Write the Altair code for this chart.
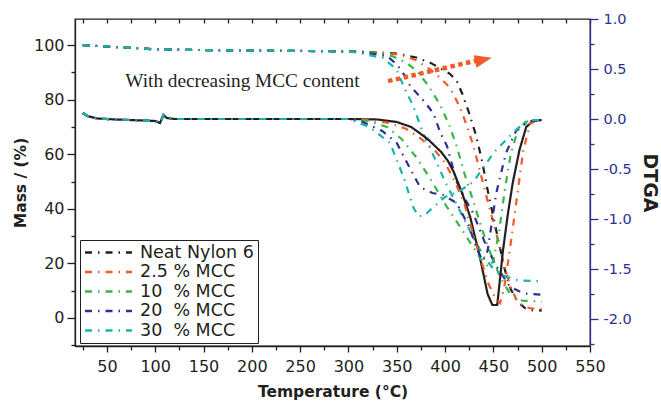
import altair as alt
import pandas as pd

series = ["Neat Nylon 6", "2.5 % MCC", "10\u00a0 % MCC", "20\u00a0 % MCC", "30\u00a0 % MCC"]
colors = ["#231f20", "#f15a29", "#39b54a", "#2e3192", "#1bb3a9"]

# ---- TGA (mass %) ----
tga_base_T = [25, 40, 60, 80, 100, 150, 200, 250, 300]
tga_base_m = [100.0, 99.7, 99.3, 98.9, 98.5, 98.2, 98.0, 97.9, 97.7]

neat_tga_T = [330, 350, 370, 385, 395, 405, 412, 418, 425, 432, 438, 444, 450, 456, 462, 468, 475, 483, 490, 500]
neat_tga_m = [97.4, 96.9, 95.5, 93.5, 91.5, 89.5, 87.0, 82.0, 75.0, 67.0, 58.0, 47.0, 37.0, 27.0, 17.5, 10.5, 6.0, 3.5, 2.8, 2.7]

mcc25_tga_T = [330, 354, 370, 385, 395, 402, 408, 415, 422, 429, 436, 444, 453, 460, 467, 474, 481, 490, 500]
mcc25_tga_m = [97.3, 96.5, 94.5, 91.0, 88.0, 85.5, 82.5, 77.5, 71.0, 63.5, 54.0, 43.0, 31.0, 21.0, 12.0, 6.5, 4.2, 3.4, 3.3]

mcc10_tga_T = [329, 345, 353, 362, 371, 383, 395, 404, 412, 420, 429, 436, 443, 450, 457, 467, 480, 500]
mcc10_tga_m = [97.2, 96.0, 94.8, 93.0, 90.5, 85.0, 78.0, 71.0, 63.0, 53.0, 43.0, 35.0, 27.5, 21.0, 15.0, 9.0, 6.3, 6.0]

mcc20_tga_T = [319, 340, 350, 357, 364, 377, 388, 395, 402, 412, 420, 429, 443, 453, 467, 481, 500]
mcc20_tga_m = [97.2, 96.0, 93.0, 89.5, 85.0, 80.0, 75.0, 68.0, 63.0, 50.0, 44.0, 38.5, 26.0, 19.0, 11.5, 9.0, 8.5]

mcc30_tga_T = [308, 336, 350, 357, 367, 377, 390, 400, 410, 420, 430, 440, 450, 460, 475, 500]
mcc30_tga_m = [97.3, 95.3, 91.0, 85.0, 77.7, 68.0, 58.0, 50.0, 43.0, 36.0, 29.0, 22.5, 18.0, 15.5, 13.8, 13.4]

# ---- DTGA ----
dtga_base_T = [25, 30, 40, 60, 100, 105, 108.5, 112, 120, 200, 300]
dtga_base_v = [0.06, 0.03, 0.005, -0.005, -0.02, -0.04, 0.04, 0.01, 0.0, 0.0, 0.0]

neat_dtga_T = [330, 350, 365, 382, 396, 403, 409, 418, 426, 436, 444, 449, 454, 460, 465, 470, 477, 484, 491, 500]
neat_dtga_v = [-0.005, -0.03, -0.08, -0.2, -0.33, -0.42, -0.53, -0.75, -0.98, -1.38, -1.75, -1.86, -1.86, -1.31, -0.95, -0.64, -0.31, -0.08, -0.02, -0.01]

mcc25_dtga_T = [320, 343, 360, 374, 390, 400, 410, 420, 433, 445, 452, 457, 461, 467, 474, 481, 488, 495, 500]
mcc25_dtga_v = [-0.01, -0.04, -0.1, -0.19, -0.32, -0.44, -0.62, -0.85, -1.28, -1.65, -1.79, -1.84, -1.7, -1.31, -0.81, -0.31, -0.05, -0.01, -0.01]

mcc10_dtga_T = [320, 340, 355, 370, 385, 400, 415, 427, 437, 445, 450, 456, 462, 468, 475, 483, 492, 500]
mcc10_dtga_v = [-0.02, -0.08, -0.2, -0.38, -0.6, -0.85, -1.07, -1.25, -1.4, -1.48, -1.42, -1.12, -0.7, -0.35, -0.12, -0.03, -0.01, -0.01]

mcc20_dtga_T = [305, 315, 335, 350, 363, 374, 387, 398, 412, 425, 433, 439, 444, 453, 463, 474, 488, 500]
mcc20_dtga_v = [-0.01, -0.03, -0.12, -0.24, -0.48, -0.68, -0.74, -0.76, -0.84, -1.08, -1.3, -1.42, -1.32, -0.74, -0.34, -0.11, -0.02, -0.01]

mcc30_dtga_T = [322, 343, 357, 367, 372, 378, 388, 400, 415, 429, 440, 450, 460, 470, 477, 491, 500]
mcc30_dtga_v = [-0.08, -0.24, -0.58, -0.88, -0.97, -0.97, -0.88, -0.78, -0.72, -0.63, -0.48, -0.34, -0.24, -0.14, -0.08, -0.01, -0.01]

# ---- annotation ----
arrow_T = [341, 432]
arrow_m = [86.8, 94.3]
head_T = [439.7]
head_m = [94.7]
note_text = ["With decreasing MCC content"]
note_T = [69]
note_m = [84.6]

tga_tails = [(neat_tga_T, neat_tga_m), (mcc25_tga_T, mcc25_tga_m), (mcc10_tga_T, mcc10_tga_m),
             (mcc20_tga_T, mcc20_tga_m), (mcc30_tga_T, mcc30_tga_m)]
dtga_tails = [(neat_dtga_T, neat_dtga_v), (mcc25_dtga_T, mcc25_dtga_v), (mcc10_dtga_T, mcc10_dtga_v),
              (mcc20_dtga_T, mcc20_dtga_v), (mcc30_dtga_T, mcc30_dtga_v)]

tga_rows, dtga_rows = [], []
for k, s in enumerate(series):
    for t, m in zip(tga_base_T + tga_tails[k][0], tga_base_m + tga_tails[k][1]):
        tga_rows.append({"s": s, "k": k, "T": t, "mass": m})
    for t, v in zip(dtga_base_T + dtga_tails[k][0], dtga_base_v + dtga_tails[k][1]):
        dtga_rows.append({"s": s, "k": k, "T": t, "dtga": v})
tga_df = pd.DataFrame(tga_rows)
dtga_df = pd.DataFrame(dtga_rows)
arrow_df = pd.DataFrame({"T": arrow_T, "mass": arrow_m})
head_df = pd.DataFrame({"T": head_T, "mass": head_m})
note_df = pd.DataFrame({"T": note_T, "mass": note_m, "txt": note_text})

DASH = [7, 6, 1.5, 6]
BLUE = "#2e3192"
FONT = "DejaVu Sans"

xscale = alt.Scale(domain=[17, 550], nice=False, zero=False)
yscale = alt.Scale(domain=[-10.3, 109.6], nice=False, zero=False)
dscale = alt.Scale(domain=[-2.27, 1.0], nice=False, zero=False)

color = alt.Color("s:N", scale=alt.Scale(domain=series, range=colors), sort=series,
                  legend=alt.Legend(orient="none", legendX=5, legendY=221, title=None,
                                    symbolType="stroke", symbolSize=2209, symbolStrokeWidth=2.5,
                                    symbolDash=DASH, labelFont=FONT, labelFontSize=17.5,
                                    labelColor="#231f20", labelOffset=6.5, padding=3.5,
                                    clipHeight=18, rowPadding=1.5,
                                    strokeColor="#231f20", fillColor="white",
                                    cornerRadius=0, labelLimit=300))

xaxis_bottom = alt.Axis(values=list(range(25, 551, 25)),
                        labelExpr="datum.value % 50 === 0 ? datum.label : ''",
                        tickSize={"condition": {"test": "datum.value % 50 === 0", "value": 6}, "value": 4},
                        title="Temperature (°C)", labelOverlap=False, labelFlush=False,
                        labelPadding=6, titlePadding=10, grid=False)
xaxis_top = alt.Axis(orient="top", values=list(range(25, 551, 25)), labels=False, domain=False,
                     tickSize=4, offset=-4, title=None, grid=False)
yaxis_left = alt.Axis(values=list(range(-10, 101, 10)),
                      labelExpr="datum.value % 20 === 0 ? datum.label : ''",
                      tickSize={"condition": {"test": "datum.value % 20 === 0", "value": 8}, "value": 4},
                      title="Mass / (%)", labelOverlap=False, labelFlush=False, labelPadding=3,
                      titlePadding=5, grid=False)

tga_lines = alt.Chart(tga_df).mark_line(strokeWidth=2.2, strokeDash=DASH).encode(
    x=alt.X("T:Q", scale=xscale, axis=xaxis_bottom),
    y=alt.Y("mass:Q", scale=yscale, axis=yaxis_left),
    color=color,
    order=alt.Order("T:Q"),
)

arrow = alt.Chart(arrow_df).mark_line(strokeWidth=4.5, strokeDash=[4.5, 3.5], color="#f15a29").encode(
    x=alt.X("T:Q", scale=xscale, axis=xaxis_bottom),
    y=alt.Y("mass:Q", scale=yscale, axis=yaxis_left),
)
head = alt.Chart(head_df).mark_point(shape="M-1,-0.75L1,0L-1,0.75Z", filled=True, size=289,
                                      angle=347, color="#f15a29", opacity=1).encode(
    x=alt.X("T:Q", scale=xscale, axis=xaxis_bottom),
    y=alt.Y("mass:Q", scale=yscale, axis=yaxis_left),
)
note = alt.Chart(note_df).mark_text(align="left", baseline="alphabetic", font="Liberation Serif",
                                    fontSize=19.3, color="#231f20").encode(
    x=alt.X("T:Q", scale=xscale, axis=xaxis_bottom),
    y=alt.Y("mass:Q", scale=yscale, axis=yaxis_left),
    text="txt:N",
)

left = alt.layer(tga_lines, arrow, head, note)

dtga_lines = alt.Chart(dtga_df).mark_line(strokeWidth=2.2).encode(
    x=alt.X("T:Q", scale=xscale, axis=xaxis_top),
    y=alt.Y("dtga:Q", scale=dscale,
            axis=alt.Axis(orient="right", values=[-2.25 + 0.25 * i for i in range(14)],
                          labelExpr="datum.value % 0.5 === 0 ? (datum.value < 0 ? '-' : '') + format(abs(datum.value), '.1f') : ''",
                          tickSize={"condition": {"test": "datum.value % 0.5 === 0", "value": 8}, "value": 4},
                          title="DTGA", titleFontSize=19, labelOverlap=False, labelFlush=False,
                          labelPadding=5, labelFontSize=14.5, titlePadding=8, domainColor=BLUE,
                          tickColor=BLUE, labelColor=BLUE, grid=False)),
    color=color,
    strokeDash=alt.condition(alt.datum.s == "Neat Nylon 6", alt.value([1, 0]), alt.value(DASH)),
    order=alt.Order("T:Q"),
)

chart = alt.layer(left, dtga_lines).resolve_scale(y="independent").resolve_axis(
    x="independent", y="independent"
).properties(
    width=515, height=327,
    padding={"left": 75, "top": 19, "right": 71, "bottom": 55},
    autosize=alt.AutoSizeParams(type="none"),
).configure_view(
    stroke="#231f20", strokeWidth=1.3
).configure_axis(
    labelFont=FONT, labelFontSize=16, labelColor="#231f20",
    titleFont=FONT, titleFontSize=15.5, titleFontWeight="bold", titleColor="#231f20",
    domainColor="#231f20", domainWidth=1.3, tickColor="#231f20", tickWidth=1.3,
)

chart.save("out.html", embed_options={"renderer": "svg", "actions": False})
